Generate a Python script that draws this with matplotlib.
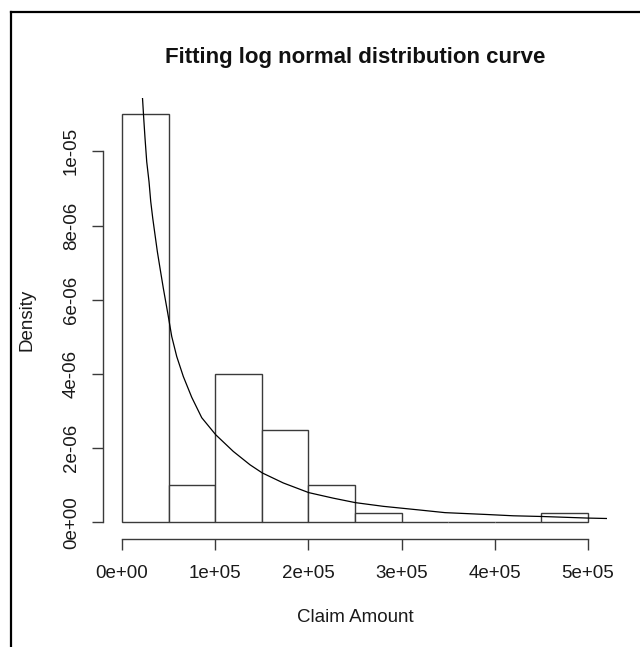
import matplotlib
matplotlib.use("Agg")
import matplotlib.pyplot as plt
from matplotlib.lines import Line2D

plt.rcParams['font.family'] = ['Liberation Sans', 'DejaVu Sans']

# histogram of claim amounts (density scale), bin width 50000
bin_edges = [0, 50000, 100000, 150000, 200000, 250000, 300000, 350000, 400000, 450000, 500000]
densities = [1.1e-5, 1.0e-6, 4.0e-6, 2.5e-6, 1.0e-6, 2.5e-7, 0, 0, 0, 2.5e-7]

# fitted log normal curve
curve_x = [21800, 22200, 23280, 24680, 26500, 28970, 30790, 32940, 35400, 37880,
           40770, 44310, 49040, 53330, 58690, 65770, 74790, 85520, 100540, 119420,
           137340, 150540, 173070, 200330, 226720, 250330, 280370, 319750, 346580,
           391310, 419860, 450660, 500350, 520090]
curve_y = [1.15e-5, 1.134e-5, 1.089e-5, 1.035e-5, 9.72e-6, 9.18e-6, 8.65e-6, 8.20e-6, 7.75e-6, 7.30e-6,
           6.85e-6, 6.31e-6, 5.64e-6, 5.01e-6, 4.47e-6, 3.93e-6, 3.37e-6, 2.82e-6, 2.36e-6, 1.91e-6,
           1.55e-6, 1.33e-6, 1.06e-6, 0.80e-6, 0.65e-6, 0.53e-6, 0.43e-6, 0.33e-6, 0.26e-6,
           0.21e-6, 0.175e-6, 0.156e-6, 0.113e-6, 0.102e-6]

xticks = [0, 100000, 200000, 300000, 400000, 500000]
xtick_labels = ['0e+00', '1e+05', '2e+05', '3e+05', '4e+05', '5e+05']
yticks = [0, 2e-6, 4e-6, 6e-6, 8e-6, 1e-5]
ytick_labels = ['0e+00', '2e-06', '4e-06', '6e-06', '8e-06', '1e-05']

W, H = 640, 647
fig = plt.figure(figsize=(W / 100, H / 100), dpi=100)
fig.patch.set_facecolor('white')

# plot region in pixels (R usr range is data range +/- 4%)
left, right, top, bottom = 103.4, 606.6, 98.0, 538.6
ax = fig.add_axes([left / W, 1 - bottom / H, (right - left) / W, (bottom - top) / H])

widths = [bin_edges[i + 1] - bin_edges[i] for i in range(len(densities))]
ax.bar(bin_edges[:-1], densities, width=widths, align='edge',
       facecolor='white', edgecolor='#3a3a3a', linewidth=1.0)
ax.plot(curve_x, curve_y, color='black', linewidth=0.9)

xr = bin_edges[-1] - bin_edges[0]
ax.set_xlim(bin_edges[0] - 0.04 * xr, bin_edges[-1] + 0.04 * xr)
ymax = max(densities)
ax.set_ylim(-0.04 * ymax, ymax * 1.04)

for s in ['top', 'right']:
    ax.spines[s].set_visible(False)
ax.spines['left'].set_bounds(yticks[0], yticks[-1])
ax.spines['bottom'].set_bounds(xticks[0], xticks[-1])
for s in ['left', 'bottom']:
    ax.spines[s].set_color('#3a3a3a')
    ax.spines[s].set_linewidth(1.0)

ax.set_xticks(xticks)
ax.set_xticklabels(xtick_labels)
ax.set_yticks(yticks)
ax.set_yticklabels(ytick_labels, rotation=90, va='center')
ax.tick_params(axis='both', direction='out', length=8, width=1.0, color='#3a3a3a',
               labelsize=13.5, labelcolor='#1a1a1a')
ax.tick_params(axis='x', pad=11)
ax.tick_params(axis='y', pad=9)

fig.text(355 / W, 1 - 58 / H, 'Fitting log normal distribution curve',
         ha='center', va='center', fontsize=16, fontweight='bold', color='#111111')
fig.text(355 / W, 1 - 618 / H, 'Claim Amount', ha='center', va='center',
         fontsize=13.5, color='#1a1a1a')
fig.text(27 / W, 1 - 320 / H, 'Density', ha='center', va='center', rotation=90,
         fontsize=13.5, color='#1a1a1a')

# screenshot frame on the left and top
fig.add_artist(Line2D([11 / W, 11 / W], [0, 1 - 12 / H], color='black', linewidth=1.6))
fig.add_artist(Line2D([11 / W, 1], [1 - 12 / H, 1 - 12 / H], color='black', linewidth=1.6))

fig.savefig('out.png', dpi=100, facecolor='white')
